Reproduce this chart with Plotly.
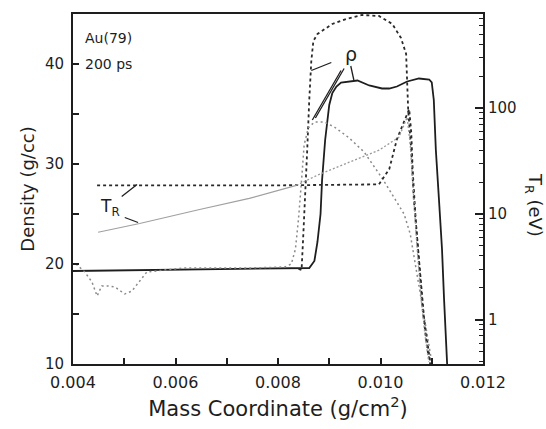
import plotly.graph_objects as go

# ---- density profiles (g/cc) vs mass coordinate (g/cm^2) ----
x_rho_solid = [0.0040, 0.0050, 0.0060, 0.0070, 0.0080, 0.00861, 0.00871, 0.00877, 0.00883,
               0.00886, 0.00892, 0.00900, 0.00906, 0.00914, 0.00923, 0.00955, 0.00978,
               0.01003, 0.01017, 0.01032, 0.01052, 0.01075, 0.01095, 0.01100, 0.01104,
               0.01108, 0.01114, 0.01120, 0.01124, 0.01128, 0.01130]
rho_solid = [19.3, 19.35, 19.4, 19.45, 19.5, 19.6, 20.3, 22.2, 25.0,
             28.4, 32.4, 35.9, 37.1, 37.75, 38.15, 38.35, 37.85,
             37.55, 37.55, 37.75, 38.25, 38.55, 38.45, 38.15, 36.4,
             31.4, 26.5, 21.5, 16.5, 12.6, 10.0]

x_rho_dash = [0.00840, 0.00846, 0.00849, 0.00853, 0.00857, 0.00861, 0.00865, 0.00869,
              0.00877, 0.00906, 0.00933, 0.00964, 0.00997, 0.01023, 0.01040, 0.01050,
              0.01052, 0.01054, 0.01060, 0.01065, 0.01075, 0.01085, 0.01095, 0.01098]
rho_dash = [19.5, 19.4, 22.5, 26.5, 31.4, 36.4, 40.3, 42.3,
            43.0, 44.0, 44.5, 44.9, 44.8, 44.0, 42.6, 41.0,
            38.3, 35.4, 31.4, 26.5, 20.5, 14.6, 10.9, 10.0]

x_rho_dot = [0.00406, 0.00423, 0.00437, 0.00447, 0.00456, 0.00468, 0.00482, 0.00501,
             0.00515, 0.00530, 0.00544, 0.00614, 0.00744, 0.00813, 0.00826, 0.00834,
             0.00840, 0.00846, 0.00851, 0.00859, 0.00871, 0.00890, 0.00910, 0.00939,
             0.00968, 0.01003, 0.01028, 0.01046, 0.01058, 0.01067, 0.01075, 0.01085,
             0.01095, 0.01100]
rho_dot = [20.0, 19.2, 18.2, 16.8, 17.8, 17.8, 17.7, 17.0,
           17.3, 18.3, 19.2, 19.6, 19.6, 19.7, 20.0, 21.5,
           24.5, 28.4, 31.9, 33.6, 34.2, 34.2, 33.7, 32.6,
           31.2, 28.6, 26.5, 25.0, 23.0, 20.3, 17.5, 14.6,
           11.6, 10.2]

# ---- radiation temperature T_R (eV) ----
x_tr_dash = [0.00447, 0.00600, 0.00800, 0.00997, 0.01017, 0.01032, 0.01046, 0.01056,
             0.01060, 0.01063, 0.01069, 0.01075, 0.01083, 0.01091, 0.01097]
tr_dash = [18.6, 18.6, 18.6, 19.0, 26.4, 50.7, 73.5, 98.0,
           59.0, 24.8, 8.3, 3.5, 1.16, 0.54, 0.38]

x_tr_gray = [0.00449, 0.00530, 0.00647, 0.00744, 0.00836, 0.00877, 0.00939, 0.00997,
             0.01036, 0.01052, 0.01058, 0.01064, 0.01071, 0.01079, 0.01087, 0.01094]
tr_gray = [6.7, 8.1, 11.0, 14.0, 18.6, 23.2, 30.8, 40.0,
           53.1, 82.0, 45.0, 15.0, 5.0, 1.6, 0.7, 0.4]
GRAY_SOLID_PART = 5   # the low-temperature part is drawn as a thin continuous stroke

# axis ticks
x_ticks = [0.004, 0.006, 0.008, 0.010, 0.012]
x_ticktext = ["0.004", "0.006", "0.008", "0.010", "0.012"]
x_minor = [0.005, 0.007, 0.009, 0.011]
rho_ticks = [10, 20, 30, 40]
rho_minor = [15, 25, 35]
tr_ticks = [1, 10, 100]
tr_ticktext = ["1", "10", "100"]
tr_minor = [m * 10 ** e for e in (-1, 0, 1, 2) for m in range(2, 10)
            if 0.38 < m * 10 ** e < 770]

FONT = "DejaVu Sans, Arial, sans-serif"
INK = "#1e1e1e"

fig = go.Figure()
fig.add_trace(go.Scatter(x=x_rho_solid, y=rho_solid, mode="lines",
                         line=dict(color=INK, width=1.8), yaxis="y"))
fig.add_trace(go.Scatter(x=x_rho_dash, y=rho_dash, mode="lines",
                         line=dict(color="#2a2a2a", width=1.8, dash="3px,3px"), yaxis="y"))
fig.add_trace(go.Scatter(x=x_rho_dot, y=rho_dot, mode="lines",
                         line=dict(color="#8a8a8a", width=1.5, dash="2px,3px"), yaxis="y"))
fig.add_trace(go.Scatter(x=x_tr_dash, y=tr_dash, mode="lines",
                         line=dict(color="#2a2a2a", width=1.8, dash="3px,3px"), yaxis="y2"))
fig.add_trace(go.Scatter(x=x_tr_gray[:GRAY_SOLID_PART], y=tr_gray[:GRAY_SOLID_PART],
                         mode="lines", line=dict(color="#a0a0a0", width=1.2), yaxis="y2"))
fig.add_trace(go.Scatter(x=x_tr_gray[GRAY_SOLID_PART - 1:], y=tr_gray[GRAY_SOLID_PART - 1:],
                         mode="lines", line=dict(color="#9a9a9a", width=1.3, dash="2px,2px"),
                         yaxis="y2"))

fig.update_layout(
    width=546, height=429,
    margin=dict(l=73, r=63, t=13, b=63),
    paper_bgcolor="white", plot_bgcolor="white",
    showlegend=False,
    font=dict(family=FONT, size=15, color=INK),
    xaxis=dict(range=[0.004, 0.012], tickvals=x_ticks, ticktext=x_ticktext,
               ticks="inside", ticklen=6, tickwidth=1.5, tickcolor=INK,
               minor=dict(tickvals=x_minor, ticks="inside", ticklen=6, tickwidth=1.5,
                          tickcolor=INK),
               showline=True, linewidth=2, linecolor=INK, mirror=True,
               showgrid=False, zeroline=False, tickfont=dict(size=16),
               ticklabelstandoff=3,
               title=dict(text="Mass Coordinate (g/cm<sup>2</sup>)",
                          font=dict(size=21), standoff=10)),
    yaxis=dict(range=[10, 45], tickvals=rho_ticks, ticks="inside", ticklen=6,
               tickwidth=1.5, tickcolor=INK,
               minor=dict(tickvals=rho_minor, ticks="inside", ticklen=6, tickwidth=1.5,
                          tickcolor=INK),
               showline=True, linewidth=2, linecolor=INK,
               showgrid=False, zeroline=False, tickfont=dict(size=15),
               ticklabelstandoff=4,
               title=dict(text="Density (g/cc)", font=dict(size=18), standoff=6)),
    yaxis2=dict(type="log", range=[-0.42, 2.89], overlaying="y", side="right",
                tickvals=tr_ticks, ticktext=tr_ticktext, ticks="inside", ticklen=8,
                tickwidth=1.5, tickcolor=INK,
                minor=dict(tickvals=tr_minor, ticks="inside", ticklen=4, tickwidth=1.2,
                           tickcolor=INK),
                showline=True, linewidth=2, linecolor=INK,
                showgrid=False, zeroline=False, tickfont=dict(size=15)),
)

# text labels
fig.add_annotation(x=0.0042, y=42.6, xref="x", yref="y", text="Au(79)", showarrow=False,
                   xanchor="left", font=dict(size=14))
fig.add_annotation(x=0.0042, y=40.0, xref="x", yref="y", text="200 ps", showarrow=False,
                   xanchor="left", font=dict(size=14))
fig.add_annotation(x=0.00943, y=41.0, xref="x", yref="y", text="ρ", showarrow=False,
                   font=dict(size=19))
fig.add_annotation(x=0.00473, y=25.7, xref="x", yref="y", text="T<sub>R</sub>",
                   showarrow=False, font=dict(size=17))
fig.add_annotation(x=1.124, y=0.455, xref="paper", yref="paper", xanchor="center",
                   yanchor="middle", text="T<sub>R</sub> (eV)", textangle=90,
                   showarrow=False, font=dict(size=18))

# pointer strokes from labels to curves
pointers = [
    (0.00495, 26.75, 0.00525, 27.95),
    (0.00501, 24.65, 0.00527, 24.15),
    (0.00865, 39.35, 0.00904, 40.15),
    (0.00867, 34.40, 0.00923, 39.35),
    (0.00873, 34.60, 0.00929, 39.55),
    (0.00942, 39.80, 0.00948, 38.40),
]
for x0, y0, x1, y1 in pointers:
    fig.add_shape(type="line", xref="x", yref="y", x0=x0, y0=y0, x1=x1, y1=y1,
                  line=dict(color=INK, width=1.3))

fig.write_html("out.html")
